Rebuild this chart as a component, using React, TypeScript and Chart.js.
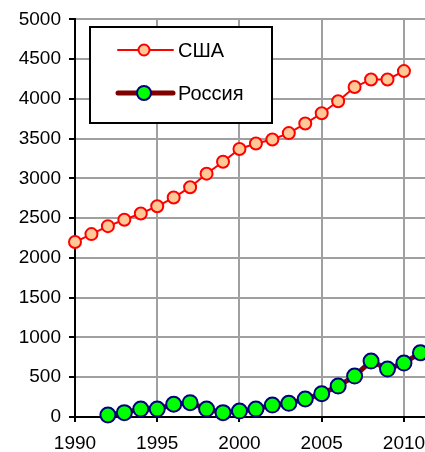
import React, { useEffect, useRef } from "react";
import { Chart, registerables } from "chart.js";
Chart.register(...registerables);

const usaLabel = "США";
const russiaLabel = "Россия";
const usaYears = [1990,1991,1992,1993,1994,1995,1996,1997,1998,1999,2000,2001,2002,2003,2004,2005,2006,2007,2008,2009,2010];
const usaValues = [2200,2300,2400,2480,2560,2650,2760,2890,3060,3210,3370,3440,3490,3570,3690,3820,3970,4150,4245,4245,4350];
const russiaYears = [1992,1993,1994,1995,1996,1997,1998,1999,2000,2001,2002,2003,2004,2005,2006,2007,2008,2009,2010,2011];
const russiaValues = [25,55,100,100,160,180,100,55,75,100,150,172,226,293,389,515,703,603,678,808];
const xTicks = [1990,1995,2000,2005,2010];

const FONT = "'Liberation Sans', Arial, sans-serif";

const legendPlugin = {
  id: "boxLegend",
  afterDraw(chart: any) {
    const ctx = chart.ctx;
    ctx.save();
    const x0 = 90, y0 = 27, w = 182, h = 96;
    ctx.fillStyle = "#fff";
    ctx.fillRect(x0, y0, w, h);
    ctx.strokeStyle = "#000";
    ctx.lineWidth = 2;
    ctx.strokeRect(x0, y0, w, h);
    const items = chart.data.datasets.map((d: any) => d);
    const rows = [50, 93];
    items.forEach((d: any, i: number) => {
      const y = rows[i];
      ctx.beginPath();
      ctx.strokeStyle = d.borderColor;
      ctx.lineWidth = d.borderWidth;
      ctx.lineCap = "round";
      ctx.moveTo(118, y);
      ctx.lineTo(173, y);
      ctx.stroke();
      ctx.beginPath();
      ctx.arc(144, y, d.pointRadius - 0.5, 0, Math.PI * 2);
      ctx.fillStyle = d.pointBackgroundColor;
      ctx.fill();
      ctx.lineWidth = d.pointBorderWidth;
      ctx.strokeStyle = d.pointBorderColor;
      ctx.stroke();
      ctx.fillStyle = "#000";
      ctx.font = `20px ${FONT}`;
      ctx.textBaseline = "middle";
      ctx.textAlign = "left";
      ctx.fillText(d.label, 178, y + 1);
    });
    ctx.restore();
  },
};

export default function App() {
  const ref = useRef<HTMLCanvasElement>(null);
  useEffect(() => {
    document.body.style.margin = "0";
    const chart = new Chart(ref.current!, {
      type: "line",
      data: {
        datasets: [
          {
            label: usaLabel,
            data: usaYears.map((y, i) => ({ x: y, y: usaValues[i] })),
            borderColor: "#ff0000",
            borderWidth: 2,
            pointRadius: 6,
            pointBackgroundColor: "#ffc896",
            pointBorderColor: "#ff0000",
            pointBorderWidth: 2,
            tension: 0,
          },
          {
            label: russiaLabel,
            data: russiaYears.map((y, i) => ({ x: y, y: russiaValues[i] })),
            borderColor: "#800000",
            borderWidth: 5,
            pointRadius: 7.5,
            pointBackgroundColor: "#00ff00",
            pointBorderColor: "#000080",
            pointBorderWidth: 2,
            tension: 0,
          },
        ],
      },
      options: {
        animation: false,
        responsive: false,
        clip: false,
        layout: { autoPadding: false, padding: { top: 19, right: 0, left: 0, bottom: 0 } },
        plugins: { legend: { display: false }, tooltip: { enabled: false } },
        scales: {
          x: {
            type: "linear",
            min: 1990,
            max: 2011.28,
            afterBuildTicks: (s: any) => {
              s.ticks = xTicks.map((v) => ({ value: v }));
            },
            afterFit: (s: any) => {
              s.height = 35;
              s.paddingLeft = 0;
              s.paddingRight = 0;
            },
            grid: { color: "#a0a0a0", lineWidth: 2, tickColor: "#000", tickLength: 5 },
            border: { color: "#000", width: 2 },
            ticks: {
              color: "#000",
              font: { family: FONT, size: 19 },
              padding: 10,
              maxRotation: 0,
              autoSkip: false,
              callback: (v: any) => String(v),
            },
          },
          y: {
            min: 0,
            max: 5000,
            afterFit: (s: any) => {
              s.width = 75;
            },
            grid: { color: "#a0a0a0", lineWidth: 2, tickColor: "#000", tickLength: 6 },
            border: { color: "#000", width: 2 },
            ticks: {
              stepSize: 500,
              color: "#000",
              font: { family: FONT, size: 19 },
              padding: 8,
              callback: (v: any) => String(v),
            },
          },
        },
      },
      plugins: [legendPlugin],
    });
    return () => chart.destroy();
  }, []);
  return <canvas ref={ref} width={425} height={452} style={{ display: "block" }} />;
}
